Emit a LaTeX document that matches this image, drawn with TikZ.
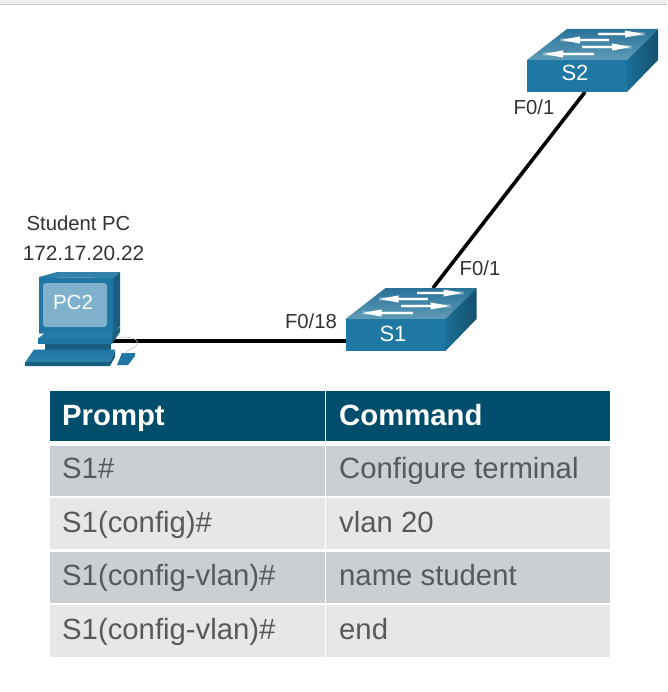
\documentclass[tikz,border=0pt]{standalone}
\usepackage{fontspec}
\setmainfont{Liberation Sans}
\usetikzlibrary{arrows.meta}
\definecolor{hdr}{HTML}{004E6B}
\definecolor{rowa}{HTML}{CBCFD2}
\definecolor{rowb}{HTML}{E6E7E9}
\definecolor{txt}{HTML}{58595B}
\definecolor{lab}{HTML}{333333}
\definecolor{swf}{HTML}{1F77A4}
\definecolor{swr}{HTML}{175F82}
\definecolor{swt}{HTML}{2A7299}
\definecolor{swtl}{HTML}{5F9BB7}
\definecolor{scr}{HTML}{7FB1CC}
\definecolor{dk}{HTML}{1B5F80}
\tikzset{
  lbl/.style={inner sep=0pt,text=lab,font=\fontsize{20.3}{24}\selectfont,anchor=center},
  cellhead/.style={inner sep=0pt,anchor=base west,text=white,font=\fontsize{29.3}{34}\selectfont\bfseries},
  cell/.style={inner sep=0pt,anchor=base west,text=txt,font=\fontsize{29.3}{34}\selectfont},
  devname/.style={inner sep=0pt,text=white,font=\fontsize{22}{26}\selectfont},
  linkline/.style={line width=3.6pt,black},
  flow/.style={white,line width=2pt,-{Stealth[length=20pt,width=6.5pt,inset=0pt]}},
  flowglow/.style={white,opacity=.2,line width=3.6pt},
}
\newcommand{\flowarrow}[3]{% from x, to x, y
  \draw[flowglow] (#1,#3) -- (#2,#3);
  \draw[flow] (#1,#3) -- (#2,#3);
}
\newcommand{\switchicon}[2]{% x, y of front-top-left
  \begin{scope}[shift={(#1,#2)}]
    \shade[top color=swt,bottom color=swtl] (0,0) -- (40,-31) -- (131,-31) -- (100,0) -- cycle;
    \fill[swf] (0,0) rectangle (100,32);
    \shade[left color=swf!60!swr,right color=swr!85!black] (100,0) -- (131,-31) -- (131,0) -- (100,32) -- cycle;
    \flowarrow{71}{118}{-26}
    \flowarrow{82}{33}{-20}
    \flowarrow{55}{105}{-13}
    \flowarrow{67}{16}{-6}
  \end{scope}
}
\begin{document}
\begin{tikzpicture}[x=1pt,y=-1pt]
\useasboundingbox (0,0) rectangle (667,692);
\fill[white] (0,0) rectangle (667,692);
\fill[rowb!70!white] (0,0) rectangle (667,4);
\fill[black!22] (0,4) rectangle (667,5);

% cable
\coordinate (pcport) at (113,341);
\coordinate (s1left) at (346,341);
\coordinate (s1top) at (433,288);
\coordinate (s2bot) at (585,92);
\draw[linkline] (pcport) -- (s1left);
\draw[linkline] (s1top) -- (s2bot);

% PC
\fill[swf!70!swtl] (39,277) -- (57,272) -- (120,272) -- (113,278) -- cycle;
\fill[dk] (113,278) -- (120,272) -- (120,326) -- (113,333.5) -- cycle;
\fill[swf] (39,277) -- (113,278) -- (113,333.5) -- (39,333.5) -- cycle;
\fill[scr,rounded corners=3pt] (43,283) rectangle (107,327);
\fill[dk] (45,343) rectangle (111,350);
\fill[dk] (112,333) -- (120,327) -- (120,332) -- (112,344) -- cycle;
\fill[swf!85!swtl] (45,333) -- (112.5,333) -- (112,338.5) -- (38,338.5) -- cycle;
\fill[swf] (38,338) -- (112,338) -- (112,344) -- (38,344) -- cycle;
\shade[top color=swf,bottom color=swf!70!swtl] (34,349.5) -- (115,349.5) -- (110,362.5) -- (25,362.5) -- cycle;
\fill[swr] (25,362) -- (110,362) -- (115,350) -- (115,357) -- (110,366) -- (25,366) -- cycle;
\fill[swf] (117,365) -- (122,353) -- (135,353) -- (135,356) -- (128,365) -- cycle;
\node[devname,font=\fontsize{20.5}{24}\selectfont] (pc) at (73,302) {PC2};
\draw[black!25,line width=.6pt] (118,338) .. controls (130,335) and (142,340) .. (136,346) .. controls (132,350) and (127,349) .. (125,354);

% switches
\switchicon{345.5}{319}
\switchicon{527}{60}
\node[devname] (s1) at (393,334) {S1};
\node[devname] (s2) at (575,73) {S2};

% labels
\node[lbl] (student) at (78.5,223) {Student PC};
\node[lbl,font=\fontsize{20.8}{24}\selectfont] (ip) at (83.5,253) {172.17.20.22};
\node[lbl] (f018) at (311,321) {F0/18};
\node[lbl] (f01a) at (480,268) {F0/1};
\node[lbl] (f01b) at (534,107) {F0/1};

% table
\fill[hdr] (50,391) rectangle (324.5,441);
\fill[hdr] (326,391) rectangle (610,441);
\fill[rowa] (50,446) rectangle (324.5,496);
\fill[rowa] (326,446) rectangle (610,496);
\fill[rowb] (50,498) rectangle (324.5,549);
\fill[rowb] (326,498) rectangle (610,549);
\fill[rowa] (50,552) rectangle (324.5,603);
\fill[rowa] (326,552) rectangle (610,603);
\fill[rowb] (50,605) rectangle (324.5,657);
\fill[rowb] (326,605) rectangle (610,657);
\node[cellhead] (h1) at (62,425) {Prompt};
\node[cellhead] (h2) at (339,425) {Command};
\node[cell] (p1) at (62,478.3) {S1\#};
\node[cell] (c1) at (339,478.3) {Configure terminal};
\node[cell] (p2) at (62,532.7) {S1(config)\#};
\node[cell] (c2) at (339,532.7) {vlan 20};
\node[cell] (p3) at (62,585.7) {S1(config-vlan)\#};
\node[cell] (c3) at (339,585.7) {name student};
\node[cell] (p4) at (62,639) {S1(config-vlan)\#};
\node[cell] (c4) at (339,639) {end};
\end{tikzpicture}
\end{document}
